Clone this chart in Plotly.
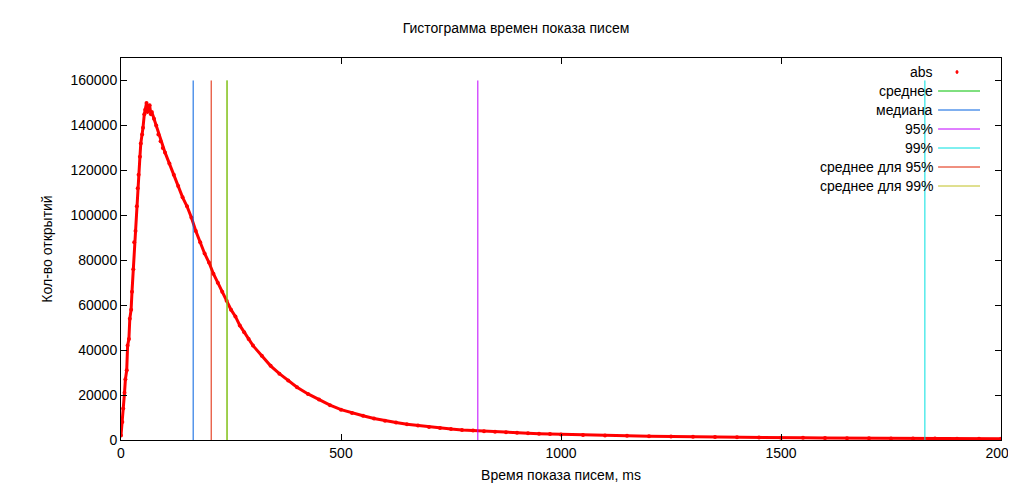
import plotly.graph_objects as go

x_ms = [0,3,5,8,10,13,15,18,20,23,25,28,30,33,36,38,40,43,45,48,50,53,55,58,60,63,65,68,70,75,80,85,90,95,100,
        110,120,130,140,150,160,170,180,190,200,210,220,230,240,250,260,270,280,290,300,320,340,360,380,400,
        425,450,475,500,525,550,575,600,625,650,675,700,725,750,775,800,825,850,875,900,925,950,975,1000,
        1050,1100,1150,1200,1250,1300,1350,1400,1450,1500,1550,1600,1650,1700,1750,1800,1850,1900,1950,2000]
counts = [2000,8000,14000,21000,27000,31000,42000,45000,54000,58000,66000,76000,88000,93000,104000,112000,118000,126000,132000,136000,139000,145000,147000,150000,146000,148000,149000,145000,146000,143000,140000,136000,133000,130000,128000,
          123000,118000,113000,108000,104000,99000,93000,88000,83000,79000,74000,70000,66000,62000,58000,55000,51000,48000,45000,42000,37500,33000,29500,26500,23500,
          20500,18000,15500,13500,12000,10800,9600,8600,7800,7000,6400,5800,5300,4900,4500,4200,3900,3650,3400,3200,3000,2800,2650,2500,
          2250,2050,1850,1700,1550,1420,1300,1200,1100,1020,950,880,820,770,720,680,640,600,570,540]

line_names = ["среднее", "медиана", "95%", "99%", "среднее для 95%", "среднее для 99%"]
line_x = [241, 164, 811, 1827, 205, 241]
line_colors = ["#00c000", "#0060e0", "#c000ff", "#00e0e0", "#e02000", "#c0c020"]
y_top = 160000

font = "Liberation Sans, Arial, sans-serif"
fig = go.Figure()
fig.add_trace(go.Scatter(x=x_ms, y=counts, mode="lines+markers", line=dict(color="#ff0000", width=3),
                         marker=dict(color="#ff0000", size=4), name="abs"))
for name, xv, c in zip(line_names, line_x, line_colors):
    fig.add_trace(go.Scatter(x=[xv, xv], y=[0, y_top], mode="lines", line=dict(color=c, width=1), name=name, hoverinfo="skip"))

entries = [("abs", None)] + list(zip(line_names, line_colors))
for i, (name, c) in enumerate(entries):
    yp = 1 - (14 + i * 19) / 382
    fig.add_annotation(xref="paper", yref="paper", x=(927 - 113) / 880, y=yp, text=name, showarrow=False,
                       xanchor="right", yanchor="middle", font=dict(family=font, size=14, color="#000"))
    if c is None:
        fig.add_shape(type="circle", xref="paper", yref="paper", x0=(948 - 113) / 880, x1=(950 - 113) / 880,
                      y0=yp - 1.5 / 382, y1=yp + 1.5 / 382, fillcolor="#ff0000", line=dict(color="#ff0000", width=1))
    else:
        fig.add_shape(type="line", xref="paper", yref="paper", x0=(927 - 113) / 880 + 0.0035, x1=(972 - 113) / 880,
                      y0=yp, y1=yp, line=dict(color=c, width=1))

axis = dict(showgrid=False, zeroline=False, showline=True, mirror="ticks", linecolor="#000", linewidth=1,
            ticks="inside", ticklen=6, tickcolor="#000", automargin=False,
            tickfont=dict(family=font, size=14, color="#000"))
fig.update_layout(
    width=1016, height=487, margin=dict(l=113, r=23, t=50, b=55),
    plot_bgcolor="white", paper_bgcolor="white", showlegend=False,
    title=dict(text="Гистограмма времен показа писем", x=0.5, y=1 - 20 / 487, yanchor="middle", xanchor="center",
               font=dict(family=font, size=14, color="#000")),
    xaxis=dict(range=[0, 2000], dtick=500, title=dict(text="Время показа писем, ms", font=dict(family=font, size=14, color="#000"), standoff=10), **axis),
    yaxis=dict(range=[0, 170000], dtick=20000, tickformat="d", title=dict(text="Кол-во открытий", font=dict(family=font, size=14, color="#000"), standoff=14), **axis),
)
fig.write_html("out.html")
